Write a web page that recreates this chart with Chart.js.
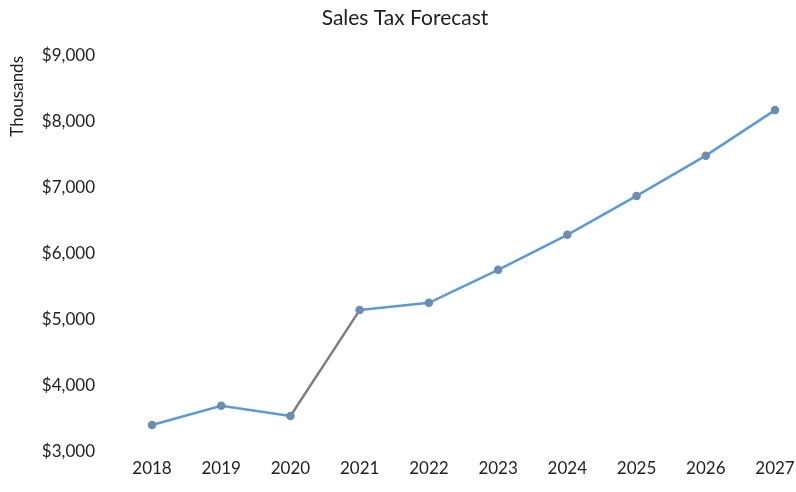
<!DOCTYPE html>
<html>
<head>
<meta charset="utf-8">
<script src="https://cdn.jsdelivr.net/npm/chart.js@4/dist/chart.umd.min.js"></script>
<style>
  html, body { margin: 0; padding: 0; background: #fff; }
  #wrap { width: 796px; height: 492px; }
</style>
</head>
<body>
<div id="wrap"><canvas id="myChart"></canvas></div>
<script>
const years = ['2018', '2019', '2020', '2021', '2022', '2023', '2024', '2025', '2026', '2027'];
const salesTax = [3410, 3700, 3545, 5150, 5260, 5760, 6290, 6880, 7490, 8180];
const yTicks = [3000, 4000, 5000, 6000, 7000, 8000, 9000];
const chartTitle = 'Sales Tax Forecast';

const blue = '#5b9bd5';
const gray = '#7f7f7f';
const textColor = '#222';
const fontFamily = 'Lato, "Open Sans", sans-serif';

// title drawn a bit right of the canvas centre, over the plot
const titlePlugin = {
    id: 'titlePlugin',
    afterDraw(chart) {
        const c = chart.ctx;
        c.save();
        c.font = '21px ' + fontFamily;
        c.fillStyle = textColor;
        c.textAlign = 'center';
        c.textBaseline = 'middle';
        c.fillText(chartTitle, 405, 18);
        c.restore();
    }
};

const ctx = document.getElementById('myChart').getContext('2d');
const myChart = new Chart(ctx, {
    type: 'line',
    data: {
        labels: years,
        datasets: [{
            label: 'Sales Tax',
            data: salesTax,
            borderColor: blue,
            borderWidth: 2.5,
            pointRadius: 3,
            pointBackgroundColor: '#6b8db3',
            pointBorderColor: '#6b8db3',
            tension: 0,
            // the jump from 2020 to 2021 is drawn in gray
            segment: {
                borderColor: c => c.p0DataIndex === 2 ? gray : blue
            }
        }]
    },
    plugins: [titlePlugin],
    options: {
        responsive: true,
        maintainAspectRatio: false,
        animation: false,
        layout: {
            padding: { left: 7, right: 21, top: 56, bottom: 7.6 }
        },
        plugins: {
            legend: { display: false },
            tooltip: { enabled: false },
            title: { display: false }
        },
        scales: {
            x: {
                offset: false,
                afterFit: scale => {
                    scale.paddingLeft = 0;
                    scale.paddingRight = 0;
                },
                grid: { display: false, drawTicks: false },
                border: { display: false },
                ticks: {
                    color: textColor,
                    padding: 6,
                    maxRotation: 0,
                    font: { family: fontFamily, size: 17 }
                }
            },
            y: {
                min: 3000,
                max: 9000,
                afterBuildTicks: scale => {
                    scale.ticks = yTicks.map(v => ({ value: v }));
                },
                afterFit: scale => {
                    scale.width = 145;
                    scale.paddingTop = 0;
                    scale.paddingBottom = 0;
                },
                grid: { display: false, drawTicks: false },
                border: { display: false },
                title: {
                    display: true,
                    text: 'Thousands',
                    align: 'end',
                    color: textColor,
                    padding: { top: 0, bottom: 0 },
                    font: { family: fontFamily, size: 17 }
                },
                ticks: {
                    color: textColor,
                    padding: 57,
                    font: { family: fontFamily, size: 17 },
                    callback: v => '$' + v.toLocaleString('en-US')
                }
            }
        }
    }
});
</script>
</body>
</html>
